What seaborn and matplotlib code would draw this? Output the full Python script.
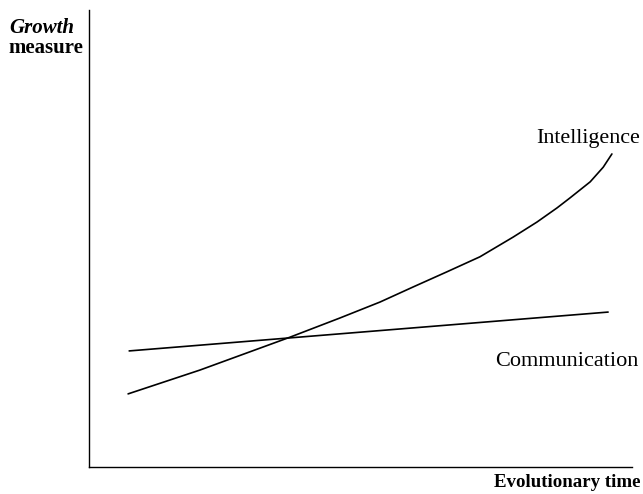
# Growth measure vs evolutionary time sketch

import seaborn as sns
import pandas as pd
import matplotlib.pyplot as plt

time_intel = [7.2, 20.4, 37.0, 46.2, 53.6, 59.7, 65.9, 72.0, 78.1, 82.5, 86.2, 88.6, 92.3, 94.7, 96.3]
intelligence = [16.0, 21.2, 28.4, 32.6, 36.1, 39.4, 42.7, 46.0, 50.3, 53.6, 56.7, 58.9, 62.4, 65.6, 68.5]
time_comm = [7.4, 95.6]
communication = [25.4, 33.9]

df = pd.concat([
    pd.DataFrame({'time': time_intel, 'growth': intelligence, 'trait': 'Intelligence'}),
    pd.DataFrame({'time': time_comm, 'growth': communication, 'trait': 'Communication'}),
])

sns.set_style('white')
plt.rcParams['font.family'] = ['Liberation Serif', 'DejaVu Serif']
plt.rcParams['text.color'] = 'black'

fig = plt.figure(figsize=(6.43, 4.94), dpi=100)
ax = fig.add_axes([89 / 643, 27 / 494, 543 / 643, 457 / 494])

sns.lineplot(data=df, x='time', y='growth', hue='trait', palette=['black', 'black'],
             linewidth=1.2, legend=False, ax=ax, estimator=None, sort=False)

ax.set_xlim(0, 100)
ax.set_ylim(0, 100)
ax.set_xticks([])
ax.set_yticks([])
ax.set_xlabel('')
ax.set_ylabel('')
sns.despine(ax=ax)
for s in ['left', 'bottom']:
    ax.spines[s].set_color('black')
    ax.spines[s].set_linewidth(1.0)

# labels
fig.text(9 / 643, 1 - 28 / 494, 'Growth', fontsize=15, fontweight='bold', fontstyle='italic',
         ha='left', va='center')
fig.text(8 / 643, 1 - 48 / 494, 'measure', fontsize=15, fontweight='bold', ha='left', va='center')
fig.text(640 / 643, 1 - 482 / 494, 'Evolutionary time', fontsize=13.6, fontweight='bold',
         ha='right', va='center')
fig.text(640 / 643, 1 - 139 / 494, 'Intelligence', fontsize=15.8, ha='right', va='center')
fig.text(639 / 643, 1 - 361 / 494, 'Communication', fontsize=16, ha='right', va='center')

fig.savefig('out.png', dpi=100)
